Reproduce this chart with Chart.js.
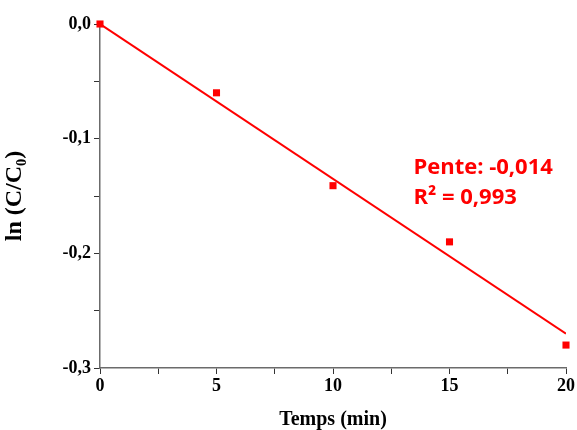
<!DOCTYPE html>
<html lang="fr">
<head>
    <meta charset="UTF-8">
    <title>ln(C/C0) vs Temps</title>
    <script src="https://cdn.jsdelivr.net/npm/chart.js@4.4.0/dist/chart.umd.min.js"></script>
    <style>
        html, body { margin: 0; padding: 0; background: #ffffff; }
        #wrap { width: 577px; height: 430px; }
    </style>
</head>
<body>
    <div id="wrap"><canvas id="kinetics"></canvas></div>

    <script>
        // measured points
        const times = [0, 5, 10, 15, 20];
        const lnValues = [0, -0.06, -0.141, -0.19, -0.28];

        // linear fit end points
        const fitTimes = [0, 20];
        const fitValues = [0, -0.27];

        const fitText = ['Pente: -0,014', 'R\u00B2 = 0,993'];

        const red = '#ff0000';
        const axisFont = { family: '"Liberation Serif", serif', size: 18, weight: 'bold' };

        const commaFmt = (v, digits) => v.toFixed(digits).replace('.', ',');

        // draws the fit text next to the line
        const fitLabel = {
            id: 'fitLabel',
            afterDatasetsDraw(chart) {
                const { ctx, scales } = chart;
                const x = scales.x.getPixelForValue(13.45);
                const y = scales.y.getPixelForValue(-0.131);
                ctx.save();
                ctx.fillStyle = red;
                ctx.font = 'bold 22px "Open Sans", sans-serif';
                ctx.textBaseline = 'alphabetic';
                ctx.fillText(fitText[0], x, y);
                ctx.fillText(fitText[1], x, y + 30);
                ctx.restore();
            }
        };

        const ctx = document.getElementById('kinetics').getContext('2d');
        new Chart(ctx, {
            type: 'scatter',
            data: {
                datasets: [
                    {
                        label: 'fit',
                        type: 'line',
                        data: fitTimes.map((t, i) => ({ x: t, y: fitValues[i] })),
                        borderColor: red,
                        borderWidth: 2,
                        pointRadius: 0,
                        fill: false
                    },
                    {
                        label: 'ln(C/C0)',
                        data: times.map((t, i) => ({ x: t, y: lnValues[i] })),
                        pointStyle: 'rect',
                        pointRadius: 5,
                        backgroundColor: red,
                        borderColor: red,
                        borderWidth: 0,
                        clip: false
                    }
                ]
            },
            options: {
                responsive: true,
                maintainAspectRatio: false,
                animation: false,
                layout: { padding: { top: 24, right: 11, left: 0, bottom: 0 } },
                plugins: {
                    legend: { display: false },
                    tooltip: { enabled: false }
                },
                scales: {
                    x: {
                        type: 'linear',
                        min: 0,
                        max: 20,
                        afterFit: (s) => { s.height = 62; },
                        border: { color: '#6b6b6b', width: 1.5 },
                        grid: { drawOnChartArea: false, tickLength: 6, tickColor: '#333', tickWidth: 1 },
                        ticks: {
                            stepSize: 2.5,
                            autoSkip: false,
                            maxRotation: 0,
                            color: '#000',
                            font: axisFont,
                            padding: 2,
                            callback: (v) => (v % 5 === 0 ? String(v) : '')
                        },
                        title: {
                            display: true,
                            text: 'Temps (min)',
                            color: '#000',
                            font: { family: '"Liberation Serif", serif', size: 20, weight: 'bold' },
                            padding: { top: 11, bottom: -2 }
                        }
                    },
                    y: {
                        type: 'linear',
                        min: -0.3,
                        max: 0,
                        afterFit: (s) => { s.width = 100; },
                        border: { color: '#6b6b6b', width: 1.5 },
                        grid: { drawOnChartArea: false, tickLength: 6, tickColor: '#333', tickWidth: 1 },
                        ticks: {
                            stepSize: 0.05,
                            autoSkip: false,
                            color: '#000',
                            font: axisFont,
                            padding: 3,
                            callback: (v) => (Math.round(v * 100) % 10 === 0 ? commaFmt(v, 1) : '')
                        },
                        title: {
                            display: true,
                            text: 'ln (C/C\u2080)',
                            color: '#000',
                            font: { family: '"Liberation Serif", serif', size: 24, weight: 'bold' },
                            padding: { top: 0, bottom: 8 }
                        }
                    }
                }
            },
            plugins: [fitLabel]
        });
    </script>
</body>
</html>
